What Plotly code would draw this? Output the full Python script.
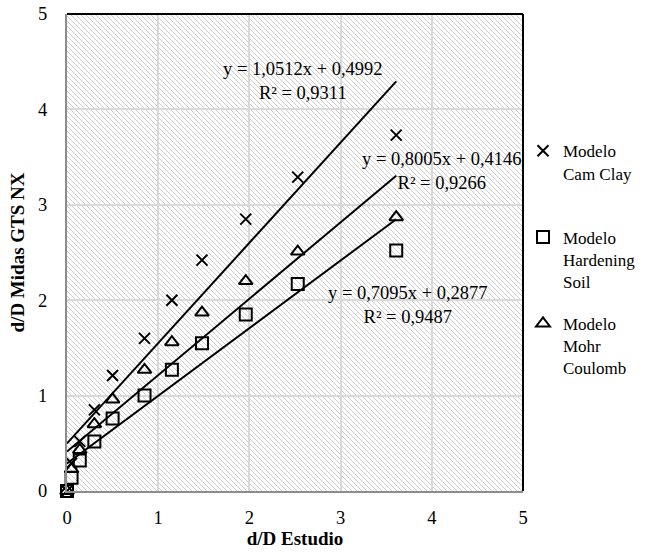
import base64
import plotly.graph_objects as go

# ---------------- data ----------------
x_estudio = [0, 0.05, 0.14, 0.30, 0.50, 0.85, 1.15, 1.48, 1.96, 2.53, 3.61]
cam_clay = [0, 0.29, 0.52, 0.85, 1.21, 1.60, 2.00, 2.42, 2.85, 3.29, 3.73]
hardening_soil = [0, 0.14, 0.32, 0.52, 0.76, 1.00, 1.27, 1.55, 1.85, 2.17, 2.52]
mohr_coulomb = [0, 0.23, 0.43, 0.70, 0.96, 1.27, 1.56, 1.87, 2.20, 2.51, 2.87]

series_names = ["Modelo<br>Cam Clay<br> ", "Modelo<br>Hardening<br>Soil", "Modelo<br>Mohr<br>Coulomb"]
series_values = [cam_clay, hardening_soil, mohr_coulomb]
symbols = ["x-thin-open", "square-open", "triangle-up-open"]
marker_sizes = [11, 12, 12]

trend_slopes = [1.0512, 0.7095, 0.8005]
trend_intercepts = [0.4992, 0.2877, 0.4146]
trend_r2 = [0.9311, 0.9487, 0.9266]
label_x = [2.59, 3.74, 4.11]
label_y = [4.30, 1.95, 3.35]

axis_ticks = [0, 1, 2, 3, 4, 5]
x_title = "d/D Estudio"
y_title = "d/D Midas GTS NX"

FONT = "Liberation Serif, Times New Roman, serif"
W, H = 660, 552
M = dict(l=67, r=137, t=14, b=61)

# ---------------- hatched plot background (decoration) ----------------
pw, ph = W - M["l"] - M["r"], H - M["t"] - M["b"]
hatch = "".join(
    f'<line x1="{k}" y1="0" x2="{k + ph}" y2="{ph}" stroke="#cfcfcf" stroke-width="1"/>'
    for k in range(-ph, pw + 5, 5)
)
svg = (f'<svg xmlns="http://www.w3.org/2000/svg" width="{pw}" height="{ph}" '
       f'viewBox="0 0 {pw} {ph}" preserveAspectRatio="none" shape-rendering="crispEdges">'
       f'<rect width="{pw}" height="{ph}" fill="white"/>{hatch}</svg>')
svg_uri = "data:image/svg+xml;base64," + base64.b64encode(svg.encode()).decode()


def fmt(v):
    return f"{v:.4f}".replace(".", ",")


fig = go.Figure()

for name, vals, sym, ms in zip(series_names, series_values, symbols, marker_sizes):
    fig.add_trace(go.Scatter(
        x=x_estudio, y=vals, mode="markers", name=name, legendgroup=name,
        cliponaxis=False,
        marker=dict(symbol=sym, size=ms, color="black", line=dict(color="black", width=2)),
    ))

x0, x1 = min(x_estudio), max(x_estudio)
for m, b in zip(trend_slopes, trend_intercepts):
    fig.add_trace(go.Scatter(
        x=[x0, x1], y=[m * x0 + b, m * x1 + b], mode="lines",
        line=dict(color="black", width=2), showlegend=False, hoverinfo="skip",
    ))

for m, b, r, lx, ly in zip(trend_slopes, trend_intercepts, trend_r2, label_x, label_y):
    fig.add_annotation(
        x=lx, y=ly, xref="x", yref="y", showarrow=False, align="center",
        text=f"y = {fmt(m)}x + {fmt(b)}<br>R² = {fmt(r)}",
        font=dict(family=FONT, size=18.5, color="black"),
    )

axis_common = dict(
    range=[0, 5], tickvals=axis_ticks, ticktext=[str(t) for t in axis_ticks],
    showgrid=True, gridcolor="#d9d9d9", gridwidth=1.5,
    showline=True, linecolor="#8c8c8c", linewidth=2, zeroline=False,
    ticks="", tickfont=dict(family=FONT, size=18.5, color="black"),
    ticklabeloverflow="allow", fixedrange=True,
)

fig.update_layout(
    width=W, height=H, margin=M, template="none",
    paper_bgcolor="white", plot_bgcolor="white",
    font=dict(family=FONT, size=18, color="black"),
    xaxis=dict(**axis_common, ticklabelstandoff=9,
               title=dict(text=f"<b>{x_title}</b>", standoff=4,
                          font=dict(family=FONT, size=19, color="black"))),
    yaxis=dict(**axis_common, ticklabelstandoff=14,
               title=dict(text=f"<b>{y_title}</b>", standoff=8,
                          font=dict(family=FONT, size=19, color="black"))),
    legend=dict(x=1.0, xanchor="left", y=0.75, yanchor="top",
                font=dict(family=FONT, size=17, color="black"),
                tracegroupgap=17, valign="top", bgcolor="rgba(0,0,0,0)"),
    images=[dict(source=svg_uri, xref="x", yref="y", x=0, y=5, sizex=5, sizey=5,
                 xanchor="left", yanchor="top", sizing="stretch", layer="below")],
    shapes=[
        dict(type="line", xref="paper", yref="paper", x0=0, x1=1, y0=1, y1=1,
             line=dict(color="black", width=2), layer="above"),
        dict(type="line", xref="paper", yref="paper", x0=1, x1=1, y0=0, y1=1,
             line=dict(color="black", width=2), layer="above"),
    ],
)

fig.write_html("out.html", config={"displayModeBar": False},
               post_script="document.body.style.margin='0';")
